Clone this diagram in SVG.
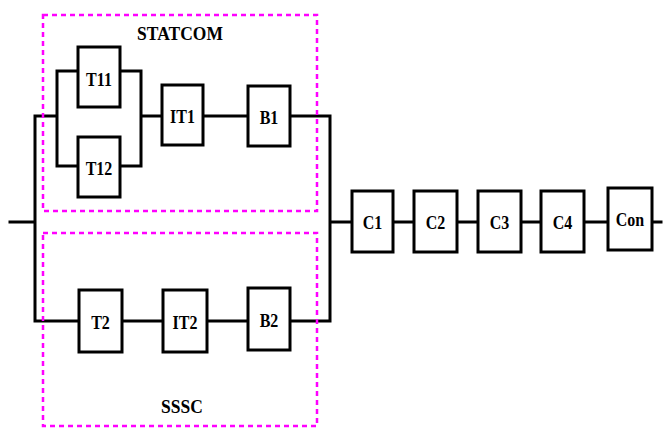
<svg xmlns="http://www.w3.org/2000/svg" width="663" height="428" viewBox="0 0 663 428">
<style>
.w{fill:none;stroke:#000;stroke-width:3;stroke-linecap:square}
.b{fill:#fff;stroke:#000;stroke-width:3}
.d{fill:none;stroke:#ff00ff;stroke-width:2.5;stroke-dasharray:5 4}
text{font-family:"Liberation Serif","Times New Roman","DejaVu Serif",serif;font-weight:bold;fill:#000;text-anchor:middle}
.n{font-size:16px}
.g{font-size:17.500px}
</style>
<rect width="663" height="428" fill="#fff"/>
<g id="connectors">
<path class="w" d="M10 222H35M35 116V321M35 116H57M57 71V166M57 71H78M57 166H78M120 71H141M120 166H141M141 71V166M141 116H162M203 116H248M290 116H330M330 116V321M35 321H79M122 321H163M207 321H248M290 321H330M330 222H352M393 222H414M457 222H478M521 222H541M584 222H608M652 222H661"/>
</g>
<g id="statcom"><rect class="d" x="43" y="15" width="274" height="196"/><text class="g" transform="translate(180 40) scale(1 1.12)">STATCOM</text></g>
<g id="sssc"><rect class="d" x="43" y="233" width="274" height="193"/><text class="g" transform="translate(182 413) scale(1 1.12)">SSSC</text></g>
<g id="T11"><rect class="b" x="78" y="47" width="42" height="60"/><text class="n" transform="translate(99 86) scale(1 1.22)">T11</text></g>
<g id="T12"><rect class="b" x="78" y="137" width="42" height="60"/><text class="n" transform="translate(99 175) scale(1 1.22)">T12</text></g>
<g id="IT1"><rect class="b" x="162" y="85" width="41" height="60"/><text class="n" transform="translate(182.500 123) scale(1 1.22)">IT1</text></g>
<g id="B1"><rect class="b" x="248" y="86" width="42" height="60"/><text class="n" transform="translate(269 124) scale(1 1.22)">B1</text></g>
<g id="T2"><rect class="b" x="79" y="290" width="43" height="62"/><text class="n" transform="translate(100.500 329) scale(1 1.22)">T2</text></g>
<g id="IT2"><rect class="b" x="163" y="290" width="44" height="62"/><text class="n" transform="translate(185 329) scale(1 1.22)">IT2</text></g>
<g id="B2"><rect class="b" x="248" y="288" width="42" height="62"/><text class="n" transform="translate(269 327) scale(1 1.22)">B2</text></g>
<g id="C1"><rect class="b" x="352" y="191" width="41" height="61"/><text class="n" transform="translate(372.500 229) scale(1 1.22)">C1</text></g>
<g id="C2"><rect class="b" x="414" y="191" width="43" height="61"/><text class="n" transform="translate(435.500 229) scale(1 1.22)">C2</text></g>
<g id="C3"><rect class="b" x="478" y="191" width="43" height="61"/><text class="n" transform="translate(499.500 229) scale(1 1.22)">C3</text></g>
<g id="C4"><rect class="b" x="541" y="191" width="43" height="61"/><text class="n" transform="translate(562.500 229) scale(1 1.22)">C4</text></g>
<g id="Con"><rect class="b" x="608" y="188" width="44" height="62"/><text class="n" transform="translate(630 226) scale(1 1.22)">Con</text></g>
</svg>
